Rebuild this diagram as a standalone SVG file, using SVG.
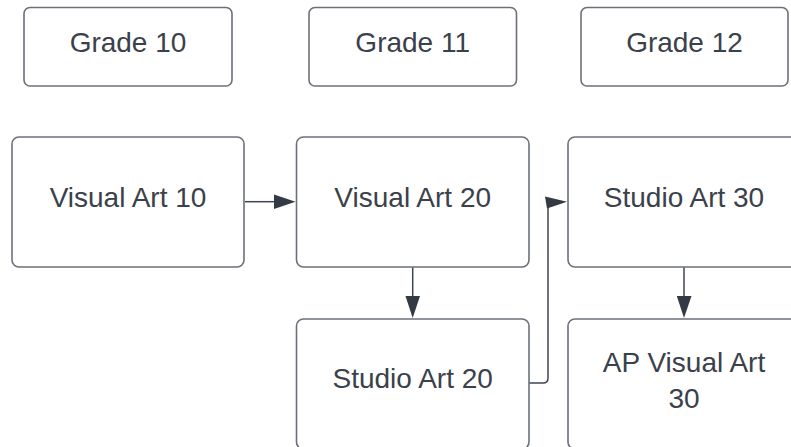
<svg xmlns="http://www.w3.org/2000/svg" width="791" height="447" viewBox="0 0 791 447">
<style>
.box{fill:#ffffff;stroke:#6b7079;stroke-width:1.6}
.t{font-family:"Liberation Sans",Arial,sans-serif;font-size:28px;fill:#3a414a;text-anchor:middle}
.c{fill:none;stroke:#3f4550;stroke-width:1.5}
.ah{fill:#333a44}
</style>
<rect width="791" height="447" fill="#ffffff"/>
<g id="grade10"><rect class="box" x="24" y="7.5" width="208" height="78.5" rx="6"/><text class="t" x="128" y="52.3">Grade 10</text></g>
<g id="grade11"><rect class="box" x="309" y="7.5" width="207.5" height="78.5" rx="6"/><text class="t" x="412.7" y="52.3">Grade 11</text></g>
<g id="grade12"><rect class="box" x="581" y="7.5" width="207" height="78.5" rx="6"/><text class="t" x="684.5" y="52.3">Grade 12</text></g>
<g id="va10"><rect class="box" x="12" y="137" width="232" height="130" rx="7"/><text class="t" x="128" y="207.3">Visual Art 10</text></g>
<g id="va20"><rect class="box" x="296.5" y="137" width="232.5" height="130" rx="7"/><text class="t" x="412.7" y="207.3">Visual Art 20</text></g>
<g id="sa30"><rect class="box" x="568" y="137" width="232" height="130" rx="7"/><text class="t" x="684" y="207.3">Studio Art 30</text></g>
<g id="sa20"><rect class="box" x="296.5" y="319" width="232.5" height="130" rx="7"/><text class="t" x="412.7" y="387.7">Studio Art 20</text></g>
<g id="apva30"><rect class="box" x="568" y="319" width="232" height="130" rx="7"/><text class="t" x="684" y="371.7">AP Visual Art</text><text class="t" x="684" y="407.7">30</text></g>
<g id="connectors">
<path class="c" d="M245 201.7H276"/>
<polygon class="ah" points="274,194.5 295.5,201.7 274,209"/>
<path class="c" d="M412.7 267.5V297"/>
<polygon class="ah" points="405.5,296 420,296 412.7,318"/>
<path class="c" d="M684 267.5V297"/>
<polygon class="ah" points="676.8,296 691.5,296 684,318"/>
<path class="c" d="M529.5 383H543Q548 383 548 378V202"/>
<polygon class="ah" points="545,196.5 567,201.7 547,208.5"/>
</g>
</svg>
